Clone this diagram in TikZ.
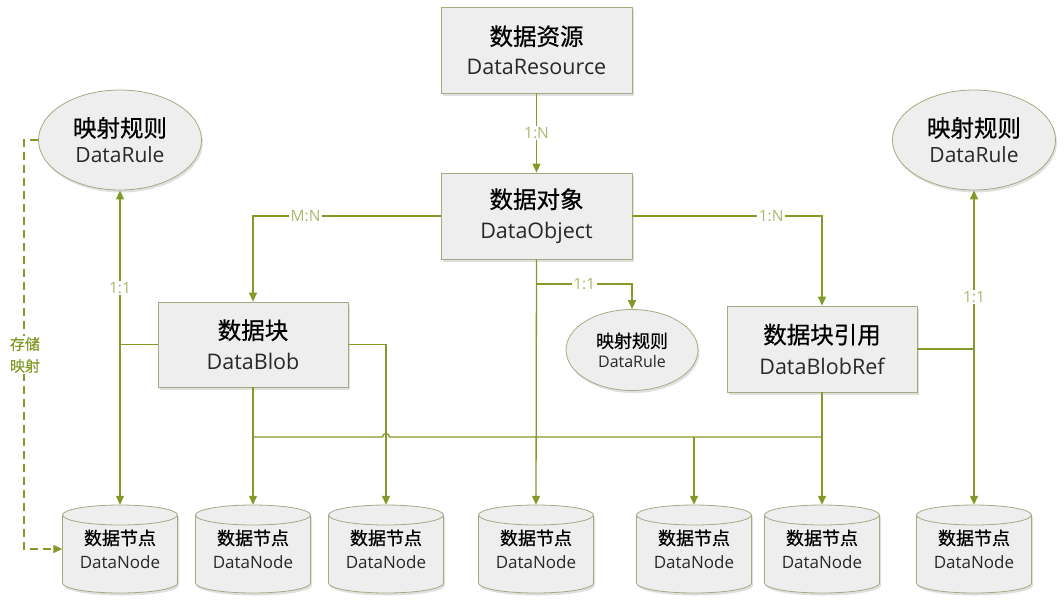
\documentclass[tikz,border=0pt]{standalone}
\usepackage{fontspec}
\newfontfamily\cjk{Noto Sans CJK SC}[FakeBold=0.6]
\newfontfamily\lat{Open Sans}
\usetikzlibrary{arrows.meta,shadows,shapes.geometric}
\definecolor{linecol}{RGB}{130,154,40}
\definecolor{labelcol}{RGB}{168,186,108}
\definecolor{boxfill}{RGB}{238,238,238}
\definecolor{bordercol}{RGB}{165,170,130}
\definecolor{entext}{RGB}{40,40,40}
\newcommand\ZH[2]{{\cjk\fontsize{#1}{#1}\selectfont #2}}
\newcommand\EN[2]{{\color{entext}\lat\fontsize{#1}{#1}\selectfont #2}}
\begin{document}
\begin{tikzpicture}[x=1pt,y=-1pt,
  conn/.style={draw=linecol, line width=1.3pt},
  arr/.style={conn, -{Triangle[length=9pt,width=8pt]}},
  biarr/.style={conn, {Triangle[length=9pt,width=8pt]}-{Triangle[length=9pt,width=8pt]}},
  lab/.style={fill=white, text=labelcol, inner sep=1.5pt, font=\lat\fontsize{15.5}{17}\selectfont},
  sh/.style={drop shadow={shadow xshift=1.5pt,shadow yshift=-2.5pt,opacity=.3,fill=black!40}},
  box/.style={draw=bordercol, fill=boxfill, line width=0.8pt, minimum width=191pt, minimum height=86pt, align=center, inner sep=0pt, sh},
  ell/.style={ellipse, draw=bordercol, fill=boxfill, line width=0.8pt, align=center, inner sep=0pt, sh},
  cylbox/.style={rectangle, minimum width=115pt, minimum height=88pt, align=center, inner sep=0pt}
]
\useasboundingbox (0,0) rectangle (1064,606);

% boxes
\node[box] (res) at (536.5,50) {\ZH{23.5}{数据资源}\\[11pt]\EN{21.5}{DataResource}};
\node[box] (obj) at (536.5,216) {\ZH{23.5}{数据对象}\\[11pt]\EN{21.5}{DataObject}};
\node[box, minimum width=190pt, minimum height=85pt] (blob) at (253,344.5) {\ZH{23.5}{数据块}\\[11pt]\EN{21.5}{DataBlob}};
\node[box, minimum width=190pt] (ref) at (822,349) {\ZH{23.5}{数据块引用}\\[11pt]\EN{21.5}{DataBlobRef}};

% ellipses
\node[ell, minimum width=163pt, minimum height=100pt] (lr) at (120,140) {\ZH{23.5}{映射规则}\\[7pt]\EN{21}{DataRule}};
\node[ell, minimum width=163pt, minimum height=100pt] (rr) at (974,140) {\ZH{23.5}{映射规则}\\[7pt]\EN{21}{DataRule}};
\node[ell, minimum width=132pt, minimum height=81pt] (mr) at (632,350) {\ZH{18}{映射规则}\\[5pt]\EN{16}{DataRule}};

% cylinders
\foreach \n/\x in {c1/120,c2/253,c3/386,c4/536,c5/694,c6/822,c7/974}{
  \filldraw[draw=bordercol, fill=boxfill, line width=0.8pt, sh]
    (\x-57.5,515) -- (\x-57.5,583) arc[start angle=180,end angle=0,x radius=57.5,y radius=10]
    -- (\x+57.5,515) arc[start angle=0,end angle=-180,x radius=57.5,y radius=10] -- cycle;
  \draw[draw=bordercol, line width=0.8pt] (\x-57.5,515) arc[start angle=180,end angle=0,x radius=57.5,y radius=10];
  \node[cylbox] (\n) at (\x,549) {\ZH{18}{数据节点}\\[8pt]\EN{17}{DataNode}};
}

% connectors
\draw[arr] (res) -- node[lab]{1:N} (obj);
\draw[arr] (obj.west) -| node[lab,pos=0.36]{M:N} (blob.north);
\draw[arr] (obj.east) -| node[lab,pos=0.366]{1:N} (ref.north);
\draw[arr] (obj.south) -- (c4.north);
\coordinate (br) at (536.5,284);
\draw[arr] (br) -| node[lab,pos=0.25]{1:1} (mr.north);

\coordinate (b1) at (253,437);
\coordinate (b2) at (822,437);
\coordinate (b5) at (c5.north |- b1);
\draw[arr] (blob.south) -- (c2.north);
\draw[arr] (ref.south) -- (c6.north);
\draw[conn] (b1) -- (382.5,437) arc[start angle=180,end angle=360,radius=3.5] -- (b2);
\draw[arr] (b5) -- (c5.north);
\draw[arr] (blob.east) -| (c3.north);

\draw[conn] (blob.west) -- (blob.west -| c1.north);
\draw[biarr] (lr.south) -- node[lab,pos=0.31]{1:1} (c1.north);
\draw[conn] (ref.east) -- (ref.east -| c7.north);
\draw[biarr] (rr.south) -- node[lab,pos=0.34]{1:1} (c7.north);

\draw[conn, dash pattern=on 8pt off 5pt, -{Triangle[length=9pt,width=8pt]}] (lr.west) -- ++(-14,0) |- (c1.west);
\node[fill=white, text=linecol, align=center, inner sep=1pt] (sm) at (25,355) {\ZH{15}{存储}\\[7pt]\ZH{15}{映射}};
\end{tikzpicture}
\end{document}
